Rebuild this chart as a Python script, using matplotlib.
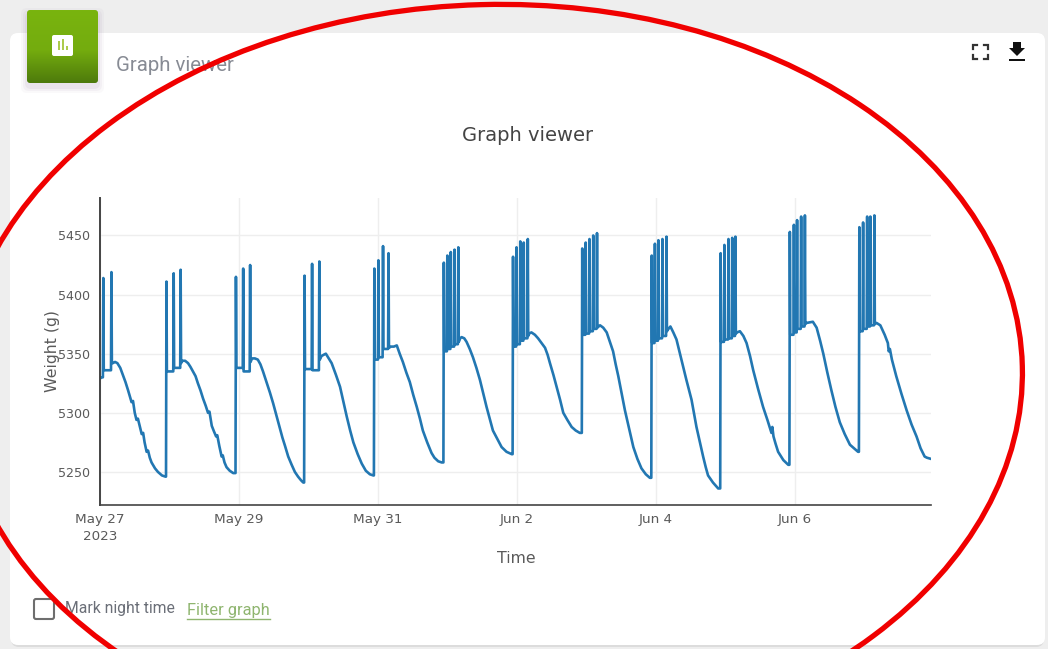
import numpy as np
import pandas as pd
import matplotlib
matplotlib.use("Agg")
import matplotlib.pyplot as plt
from matplotlib.patches import Ellipse, FancyBboxPatch, Rectangle, Polygon

# ── Data (hours since May 27 00:00, weight in g) ──────────────────────────────

start_hours = [0.0, 0.6]
start_weights = [5329, 5330]

# one list per daily cycle: watering spikes, level right after each, then the decline
spike_hours = [
    [1.0, 3.8],
    [22.8, 25.3, 27.7],
    [46.8, 49.3, 51.7],
    [70.5, 73.1, 75.6],
    [94.6, 96.0, 97.6, 99.5],
    [118.6, 119.8, 121.0, 122.3, 123.6],
    [142.5, 143.7, 145.0, 146.2, 147.6],
    [166.4, 167.6, 168.9, 170.2, 171.5],
    [190.4, 191.5, 192.7, 194.1, 195.5],
    [214.2, 215.5, 216.9, 218.2, 219.3],
    [238.1, 239.5, 240.6, 242.0, 243.3],
    [262.1, 263.4, 264.8, 265.9, 267.3],
]
spike_tops = [
    [5414, 5419],
    [5411, 5418, 5421],
    [5415, 5422, 5425],
    [5416, 5426, 5428],
    [5422, 5429, 5441, 5435],
    [5427, 5433, 5436, 5438, 5440],
    [5432, 5440, 5445, 5444, 5447],
    [5439, 5444, 5447, 5450, 5452],
    [5433, 5443, 5446, 5447, 5449],
    [5435, 5442, 5447, 5448, 5449],
    [5453, 5459, 5463, 5466, 5467],
    [5457, 5461, 5466, 5466, 5467],
]
spike_bases = [
    [5336, 5342],
    [5335, 5338, 5342],
    [5338, 5335, 5343],
    [5337, 5336, 5345],
    [5345, 5347, 5354, 5355],
    [5352, 5354, 5356, 5358, 5360],
    [5356, 5358, 5361, 5363, 5365],
    [5366, 5367, 5369, 5371, 5372],
    [5359, 5361, 5363, 5365, 5369],
    [5360, 5362, 5363, 5365, 5367],
    [5366, 5368, 5371, 5373, 5375],
    [5369, 5371, 5373, 5374, 5375],
]
decline_hours = [
    [4.4, 5.2, 6.0, 7.0, 7.9, 8.8, 9.7, 10.3, 10.9, 11.4, 12.0, 12.6, 13.1, 13.6, 14.4, 14.9, 15.4, 16.1, 16.6, 17.2, 17.8, 19.0, 20.0, 21.4, 22.6],
    [28.4, 29.4, 30.4, 31.2, 32.1, 33.0, 33.8, 34.7, 35.6, 36.5, 37.3, 37.8, 38.6, 39.4, 40.1, 40.5, 41.2, 42.0, 42.4, 43.0, 43.7, 44.8, 46.0, 46.7],
    [52.5, 53.5, 54.5, 55.4, 56.3, 57.5, 58.7, 59.8, 61.0, 62.0, 63.0, 63.9, 65.0, 66.2, 67.3, 68.4, 69.4, 70.2],
    [76.5, 77.2, 78.0, 79.0, 80.0, 81.5, 82.9, 84.0, 85.2, 86.4, 87.5, 89.0, 90.4, 91.8, 93.2, 94.4],
    [100.5, 101.5, 102.5, 103.5, 104.6, 105.8, 107.0, 108.2, 109.4, 110.5, 111.5, 113.0, 114.5, 115.5, 116.8, 118.0, 118.4],
    [124.4, 124.9, 125.8, 126.6, 127.7, 128.8, 130.0, 131.2, 132.4, 133.5, 134.6, 135.7, 137.2, 138.7, 140.4, 142.2],
    [148.2, 149.0, 150.2, 151.3, 152.5, 153.7, 154.6, 155.4, 156.6, 157.7, 158.9, 160.0, 161.4, 162.9, 164.3, 165.7, 166.2],
    [172.2, 172.7, 173.8, 175.0, 176.1, 177.2, 178.1, 179.0, 180.2, 181.3, 182.8, 184.2, 185.6, 187.0, 188.5, 189.9],
    [196.0, 197.0, 198.0, 199.1, 200.0, 200.8, 202.5, 204.3, 205.1, 206.0, 207.2, 208.3, 209.2, 210.0, 211.7, 213.5, 214.0],
    [220.0, 221.0, 222.2, 223.3, 224.5, 225.6, 227.3, 229.0, 230.5, 231.9, 232.2, 232.6, 233.3, 234.2, 236.0, 237.7],
    [244.0, 246.2, 247.5, 248.7, 249.8, 251.2, 252.6, 254.0, 255.5, 257.2, 259.0, 260.4, 261.8],
    [268.2, 269.5, 271.0, 272.1, 272.4, 272.8, 273.5, 275.0, 276.8, 278.6, 280.3, 282.0, 283.4, 284.8, 285.6, 287.0],
]
decline_weights = [
    [5342, 5343, 5342, 5338, 5332, 5326, 5319, 5314, 5309, 5310, 5300, 5294, 5295, 5290, 5282, 5283, 5275, 5267, 5268, 5262, 5258, 5253, 5250, 5247, 5246],
    [5344, 5344, 5342, 5339, 5335, 5331, 5325, 5319, 5312, 5306, 5300, 5301, 5289, 5284, 5280, 5281, 5272, 5263, 5264, 5258, 5254, 5251, 5249, 5249],
    [5346, 5346, 5345, 5341, 5335, 5326, 5317, 5308, 5297, 5288, 5279, 5272, 5263, 5256, 5250, 5246, 5243, 5241],
    [5348, 5349, 5350, 5346, 5342, 5332, 5322, 5310, 5297, 5285, 5275, 5265, 5257, 5251, 5248, 5247],
    [5356, 5356, 5357, 5350, 5343, 5334, 5326, 5315, 5305, 5295, 5285, 5275, 5266, 5262, 5259, 5258, 5258],
    [5363, 5364, 5363, 5360, 5354, 5347, 5338, 5328, 5316, 5305, 5295, 5285, 5278, 5271, 5267, 5265],
    [5367, 5368, 5366, 5363, 5359, 5355, 5349, 5342, 5332, 5322, 5311, 5300, 5294, 5288, 5285, 5283, 5283],
    [5373, 5374, 5372, 5368, 5360, 5352, 5341, 5331, 5316, 5302, 5286, 5271, 5261, 5253, 5248, 5245],
    [5370, 5373, 5368, 5362, 5353, 5345, 5328, 5311, 5300, 5288, 5275, 5263, 5254, 5247, 5241, 5236, 5236],
    [5368, 5369, 5365, 5359, 5348, 5336, 5320, 5305, 5294, 5283, 5288, 5280, 5274, 5267, 5260, 5256],
    [5376, 5377, 5372, 5361, 5350, 5334, 5319, 5305, 5292, 5282, 5273, 5270, 5267],
    [5376, 5374, 5366, 5359, 5352, 5354, 5345, 5331, 5316, 5302, 5290, 5280, 5270, 5263, 5262, 5261],
]

y_ticks = [5250, 5300, 5350, 5400, 5450]
x_tick_dates = ["2023-05-27", "2023-05-29", "2023-05-31", "2023-06-02", "2023-06-04", "2023-06-06"]
x_tick_labels = ["May 27\n2023", "May 29", "May 31", "Jun 2", "Jun 4", "Jun 6"]

W, H = 1048, 649
BLUE = "#2277b2"
TEXT = "#5a5a5a"


# ── Build the line ────────────────────────────────────────────────────────────

def build_series():
    hours, weights = list(start_hours), list(start_weights)
    for s_h, s_t, s_b, d_h, d_w in zip(spike_hours, spike_tops, spike_bases,
                                       decline_hours, decline_weights):
        for h, top, base in zip(s_h, s_t, s_b):
            hours += [h, h + 0.15, h + 0.3]
            weights += [weights[-1], top, base]
        hours += d_h
        weights += d_w
    return hours, weights


# ── Page furniture (pixel coordinates) ────────────────────────────────────────

def draw_page(fig):
    bg = fig.add_axes([0, 0, 1, 1], zorder=0)
    bg.set_xlim(0, W)
    bg.set_ylim(H, 0)
    bg.axis("off")
    fig.patch.set_facecolor("#eeeeee")

    bg.add_patch(FancyBboxPatch((11, 35), 1033, 612, boxstyle="round,pad=0,rounding_size=8",
                                fc="#dcdcdc", ec="none"))
    bg.add_patch(FancyBboxPatch((10, 33), 1035, 612, boxstyle="round,pad=0,rounding_size=8",
                                fc="white", ec="none"))

    # green badge with soft shadow, mostly below it
    for grow, alpha in zip([6, 4, 2], [0.035, 0.05, 0.07]):
        bg.add_patch(FancyBboxPatch((27 - grow, 14 - grow), 71 + 2 * grow, 73 + 2 * grow,
                                    boxstyle="round,pad=0,rounding_size=6",
                                    fc="#7a5a8a", ec="none", alpha=alpha))
    grad = np.linspace(0, 1, 73).reshape(-1, 1)
    cmap = matplotlib.colors.LinearSegmentedColormap.from_list(
        "badge", [(0, "#79b40f"), (0.55, "#74ac0e"), (1, "#4e7b0c")])
    im = bg.imshow(grad, cmap=cmap, extent=(27, 98, 83, 10), aspect="auto", zorder=2)
    badge = FancyBboxPatch((27, 10), 71, 73, boxstyle="round,pad=0,rounding_size=3",
                           fc="none", ec="none", transform=bg.transData)
    bg.add_patch(badge)
    im.set_clip_path(badge)
    bg.set_xlim(0, W)
    bg.set_ylim(H, 0)
    bg.add_patch(FancyBboxPatch((52, 35), 21, 21, boxstyle="round,pad=0,rounding_size=2",
                                fc="white", ec="none", zorder=3))
    for x, y0 in zip([58.5, 62.5, 66.5], [41, 39, 46]):
        bg.plot([x, x], [y0, 50], color="#a5c63a", lw=1.3, zorder=4, solid_capstyle="butt")

    bg.text(116, 65.5, "Graph viewer", family="Roboto", fontsize=14.7,
            color="#878b94", va="center", ha="left")
    bg.text(528, 135.5, "Graph viewer", fontsize=14, color="#444444", va="center", ha="center")

    # fullscreen + download icons
    for xs, ys in [([973, 973, 977], [49, 45, 45]), ([984, 988, 988], [45, 45, 49]),
                   ([973, 973, 977], [55, 59, 59]), ([984, 988, 988], [59, 59, 55])]:
        bg.plot(xs, ys, color="#333333", lw=1.6, solid_joinstyle="miter")
    bg.add_patch(Polygon([(1013, 42), (1021, 42), (1021, 48), (1025, 48), (1017, 56), (1009, 48), (1013, 48)],
                         fc="#111111", ec="none"))
    bg.add_patch(Rectangle((1009, 58.5), 16, 2, fc="#111111", ec="none"))

    # footer controls
    bg.add_patch(FancyBboxPatch((34, 599), 20, 20, boxstyle="round,pad=0,rounding_size=2",
                                fc="white", ec="#6e6e6e", lw=1.5))
    bg.text(65, 609, "Mark night time", family="Roboto", fontsize=11.3, color="#6b6f78",
            va="center", ha="left")
    bg.text(187, 610.5, "Filter graph", family="Roboto", fontsize=11.8, color="#8fb56f",
            va="center", ha="left")
    bg.plot([187, 270], [619, 619], color="#8fb56f", lw=1)


def draw_annotation(fig):
    top = fig.add_axes([0, 0, 1, 1], zorder=3)
    top.set_xlim(0, W)
    top.set_ylim(H, 0)
    top.axis("off")
    top.patch.set_alpha(0)
    top.add_patch(Ellipse((491, 380), 1063, 751, angle=-1.5, fc="none", ec="#f00000", lw=3.8))


# ── Chart ─────────────────────────────────────────────────────────────────────

def plot_chart(fig):
    ax = fig.add_axes([100 / W, 1 - 505 / H, (931 - 100) / W, (505 - 198) / H], zorder=1)
    ax.patch.set_alpha(0)

    hours, weights = build_series()
    t0 = pd.Timestamp(x_tick_dates[0])
    times = t0 + pd.to_timedelta(hours, unit="h")
    ax.plot(times, weights, color=BLUE, lw=1.9, solid_joinstyle="round")

    ax.set_xlim(t0, t0 + pd.Timedelta(hours=287))
    ax.set_ylim(5222, 5481.7)
    ax.set_yticks(y_ticks)
    ax.set_xticks(pd.to_datetime(x_tick_dates))
    ax.set_xticklabels(x_tick_labels, linespacing=1.35)
    ax.grid(True, color="#eeeeee", lw=1)
    ax.set_axisbelow(True)
    ax.tick_params(axis="y", length=0, labelsize=9.1, labelcolor=TEXT, pad=7)
    ax.tick_params(axis="x", length=0, labelsize=9.7, labelcolor=TEXT, pad=6)

    for side in ["top", "right"]:
        ax.spines[side].set_visible(False)
    ax.spines["left"].set_color("#444444")
    ax.spines["left"].set_linewidth(1.4)
    ax.spines["bottom"].set_color("#444444")
    ax.spines["bottom"].set_linewidth(1.2)

    fig.text(516 / W, 1 - 558.5 / H, "Time", fontsize=11.3, color=TEXT, ha="center", va="center")
    fig.text(52 / W, 1 - 351 / H, "Weight (g)", fontsize=11.3, color=TEXT, rotation=90,
             ha="center", va="center")


if __name__ == "__main__":
    fig = plt.figure(figsize=(W / 100, H / 100), dpi=100)
    draw_page(fig)
    plot_chart(fig)
    draw_annotation(fig)
    fig.savefig("out.png", dpi=100, facecolor=fig.get_facecolor())
    plt.close(fig)
